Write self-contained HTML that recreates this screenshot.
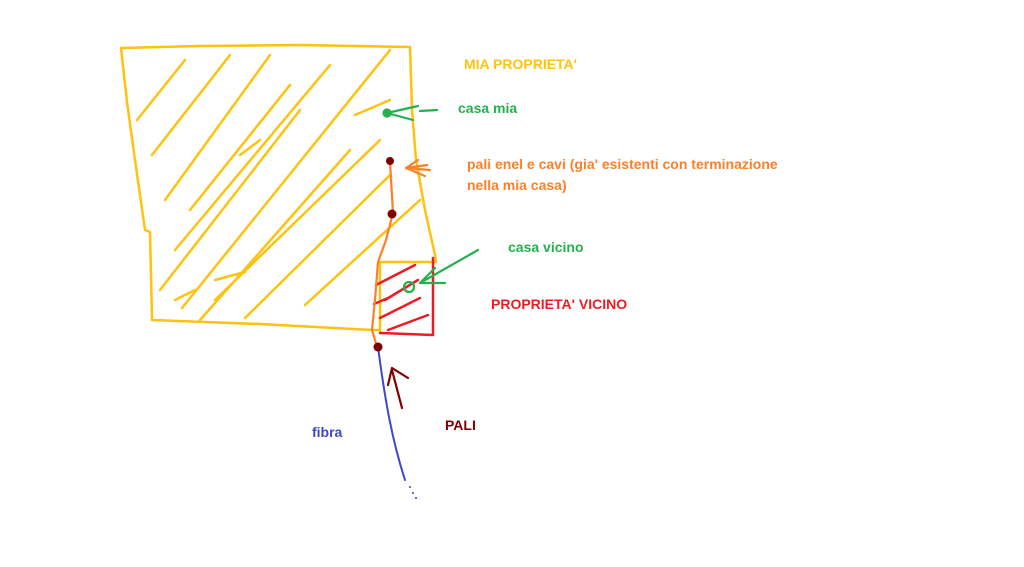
<!DOCTYPE html>
<html><head><style>
body{margin:0;background:#fff;width:1024px;height:567px;overflow:hidden}
svg{display:block}
text{font-family:"Liberation Sans",sans-serif;font-weight:bold;font-size:14px}
</style></head><body>
<svg width="1024" height="567" viewBox="0 0 1024 567" fill="none" stroke-linecap="round" stroke-linejoin="round">
<g stroke="#FFC20E" stroke-width="2.5">
<path d="M121,48 L200,46 L300,45 L410,47 L412,110 L416,160 L425,210 L435,255 L436,262"/>
<path d="M121,48 L127,102 L135,160 L145,230 L150,232 L152,320 L260,324 L372,330 L380,330"/>
<path d="M380,262 L435,262 M380,262 L380,333"/>
<path d="M137,120 L185,60 M152,155 L230,55 M165,200 L270,55 M175,250 L330,65 M190,210 L290,85 M160,290 L300,110 M182,308 L390,50 M200,320 L350,150 M215,300 L380,140 M245,318 L390,175 M305,305 L420,200 M215,280 L245,272 M175,300 L195,290 M240,155 L260,140 M355,115 L390,100"/>
</g>
<g stroke="#ED1C24" stroke-width="2.5">
<path d="M433,258 L433,335 L380,333"/>
<path d="M376,285 L415,265 M385,300 L418,280 M380,318 L420,298 M388,330 L428,315 M374,304 L388,298"/>
</g>
<path d="M390,162 L393,213 L386,240 L378,262 L375,300 L372,330 L377,347" stroke="#FF7F27" stroke-width="2.2"/>
<path d="M427,165 L406,168 L418,160 M406,168 L425,176" stroke="#FF7F27" stroke-width="2.2"/>
<path d="M406,168 L430,170" stroke="#FF7F27" stroke-width="2.2"/>
<path d="M378,347 C385,400 392,440 405,480" stroke="#3F48CC" stroke-width="2"/>
<circle cx="410" cy="487" r="1" fill="#3F48CC"/><circle cx="413" cy="493" r="1" fill="#3F48CC"/><circle cx="416" cy="498" r="1" fill="#3F48CC"/>
<g fill="#7F0000" stroke="none">
<circle cx="390" cy="161" r="4"/><circle cx="392" cy="214" r="4.5"/><circle cx="378" cy="347" r="4.5"/>
</g>
<path d="M402,408 L392,370 M392,368 L388,385 M392,368 L408,378" stroke="#7F0000" stroke-width="2.2"/>
<g stroke="#22B14C" stroke-width="2.2">
<circle cx="387" cy="113" r="3.5" fill="#22B14C"/>
<path d="M387,113 L418,106 M387,113 L413,120 M420,111 L437,110"/>
<circle cx="409" cy="287" r="5"/>
<path d="M420,283 L478,250 M420,283 L435,268 M420,283 L445,283"/>
</g>
<text x="464" y="69" fill="#FFC20E">MIA PROPRIETA'</text>
<text x="458" y="113" fill="#22B14C">casa mia</text>
<text x="467" y="169" fill="#FF7F27">pali enel e cavi (gia' esistenti con terminazione</text>
<text x="467" y="190" fill="#FF7F27">nella mia casa)</text>
<text x="508" y="252" fill="#22B14C">casa vicino</text>
<text x="491" y="309" fill="#ED1C24">PROPRIETA' VICINO</text>
<text x="445" y="430" fill="#7F0000">PALI</text>
<text x="312" y="437" fill="#3F48CC">fibra</text>
</svg>
</body></html>
